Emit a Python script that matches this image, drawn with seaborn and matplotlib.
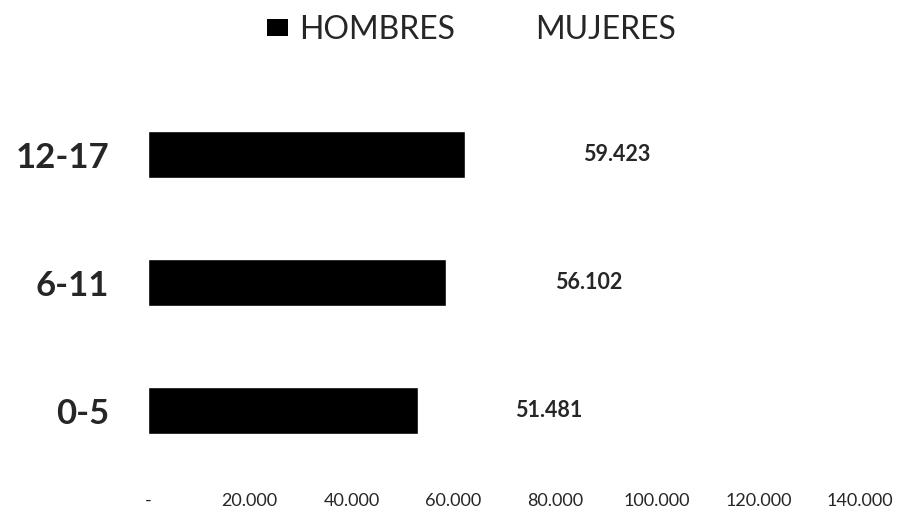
import matplotlib
matplotlib.use("Agg")
import matplotlib.pyplot as plt
from matplotlib.patches import Patch
import pandas as pd
import seaborn as sns

# Data
grupos = ["12-17", "6-11", "0-5"]
hombres = [62400, 58600, 53100]
mujeres = [59423, 56102, 51481]
mujeres_labels = ["59.423", "56.102", "51.481"]
x_ticks = [0, 20000, 40000, 60000, 80000, 100000, 120000, 140000]
x_ticklabels = ["-", "20.000", "40.000", "60.000", "80.000", "100.000", "120.000", "140.000"]

df = pd.DataFrame({"grupo": grupos, "hombres": hombres, "mujeres": mujeres})
df["total"] = df["hombres"] + df["mujeres"]

sns.set_theme(style="white")
plt.rcParams["font.family"] = ["Lato", "DejaVu Sans"]

fig = plt.figure(figsize=(8.97, 5.16), dpi=100)
ax = fig.add_axes([0.165, 0.08, 0.794, 0.744])

# stacked bars: white total underneath, black hombres on top
sns.barplot(data=df, x="total", y="grupo", color="white", width=0.37,
            orient="h", ax=ax, saturation=1)
sns.barplot(data=df, x="hombres", y="grupo", color="black", width=0.37,
            orient="h", ax=ax, saturation=1)

# labels for mujeres centred in the (white) segment
for i, row in df.iterrows():
    ax.text(row["hombres"] + row["mujeres"] / 2, i, mujeres_labels[i],
            ha="center", va="center", fontsize=15.5, fontweight="bold")

ax.set_xlim(0, 140000)
ax.set_ylim(2.5, -0.5)
ax.set_xticks(x_ticks)
ax.set_xticklabels(x_ticklabels, fontsize=13)
ax.set_yticks(range(len(grupos)))
ax.set_yticklabels(grupos, fontsize=25, fontweight="bold")
ax.tick_params(axis="x", length=0, pad=13)
ax.tick_params(axis="y", length=0, pad=28)
ax.set_xlabel("")
ax.set_ylabel("")
for s in ax.spines.values():
    s.set_visible(False)

handles = [Patch(facecolor="black", edgecolor="none", label="HOMBRES"),
           Patch(facecolor="white", edgecolor="none", label="MUJERES")]
fig.legend(handles=handles, loc="center", bbox_to_anchor=(0.526, 0.942), ncol=2,
           frameon=False, fontsize=23, handlelength=0.65, handleheight=0.45,
           handletextpad=0.35, columnspacing=1.5)

fig.savefig("out.png", dpi=100)
